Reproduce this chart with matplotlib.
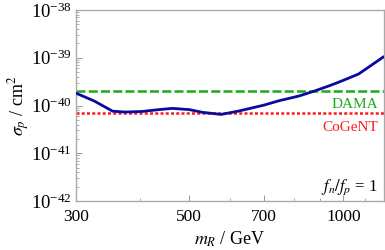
import matplotlib
matplotlib.use("Agg")
import matplotlib.pyplot as plt
from matplotlib.ticker import FixedLocator, NullFormatter, LogLocator

# limit curve
mass = [300, 326, 354, 375, 404, 436, 463, 500, 530, 577, 626, 700, 749, 819, 877, 936, 981, 1071, 1196]
sigma = [1.82e-40, 1.24e-40, 7.6e-41, 7.3e-41, 7.5e-41, 8.2e-41, 8.7e-41, 8.2e-41, 7.2e-41, 6.5e-41,
         7.7e-41, 1.02e-40, 1.26e-40, 1.58e-40, 2.0e-40, 2.56e-40, 3.1e-40, 4.56e-40, 1.03e-39]
dama = 2.0e-40
cogent = 6.8e-41
x_major = [300, 500, 700, 1000]
x_minor = [400, 600, 800, 900, 1100]

plt.rcParams["font.family"] = ["Liberation Serif", "DejaVu Serif"]
plt.rcParams["mathtext.fontset"] = "stix"

fig = plt.figure(figsize=(3.85, 2.5), dpi=100)
ax = fig.add_axes([0.197, 0.196, 0.8, 0.764])

ax.plot(mass, sigma, color="#0a0aa0", lw=2.0, zorder=3)
ax.axhline(dama, color="#1aaa1a", lw=1.8, ls=(0, (3.6, 1.3)))
ax.axhline(cogent, color="#ff1a1a", lw=1.8, ls=(0, (1.2, 0.9)))

ax.set_xscale("log")
ax.set_yscale("log")
ax.set_xlim(300, 1200)
ax.set_ylim(1e-42, 1e-38)

ax.xaxis.set_major_locator(FixedLocator(x_major))
ax.xaxis.set_minor_locator(FixedLocator(x_minor))
ax.xaxis.set_minor_formatter(NullFormatter())
ax.set_xticklabels([str(v) for v in x_major])
ax.yaxis.set_major_locator(LogLocator(base=10, numticks=10))
ax.yaxis.set_minor_locator(LogLocator(base=10, subs=range(2, 10), numticks=10))
ax.yaxis.set_minor_formatter(NullFormatter())

ax.tick_params(which="both", direction="in", color="#888888")
ax.tick_params(which="major", length=4, width=0.6)
ax.tick_params(which="minor", length=2, width=0.5)
ax.tick_params(axis="x", labelsize=12.5, pad=6)
ax.tick_params(axis="y", labelsize=13.5, pad=3)
for s in ax.spines.values():
    s.set_color("#aaaaaa")
    s.set_linewidth(1.0)

ax.set_xlabel(r"$m_R$ / GeV", fontsize=13, labelpad=3)
ax.set_ylabel(r"$\sigma_p$ / cm$^2$", fontsize=13, labelpad=-1)

ax.text(0.98, 0.503, "DAMA", transform=ax.transAxes, color="#1aaa1a", fontsize=11,
        ha="right", va="center")
ax.text(0.98, 0.387, "CoGeNT", transform=ax.transAxes, color="#ff1a1a", fontsize=11,
        ha="right", va="center")
ax.text(0.98, 0.073, r"$f_n/f_p$ = 1", transform=ax.transAxes, color="black", fontsize=12,
        ha="right", va="center")

fig.savefig("out.png", dpi=100)
